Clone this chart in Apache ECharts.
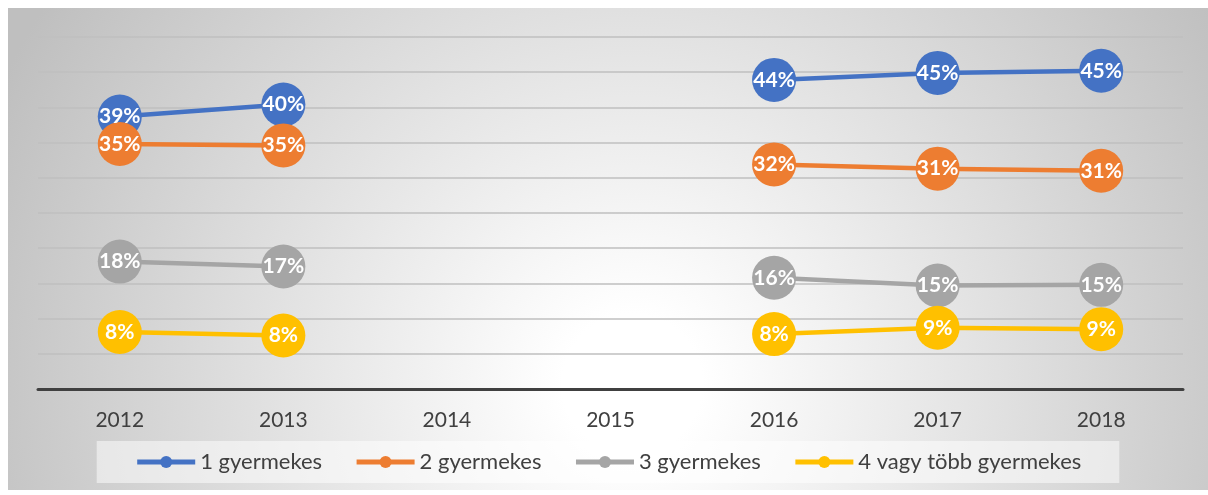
<!DOCTYPE html>
<html>
<head>
<meta charset="utf-8">
<script src="https://cdn.jsdelivr.net/npm/echarts@6/dist/echarts.min.js"></script>
<style>
  html, body { margin: 0; padding: 0; background: #fff; }
  #chart { position: absolute; left: 8px; top: 8px; width: 1200px; height: 482px; }
</style>
</head>
<body>
<div id="chart"></div>
<script>
const years = ['2012', '2013', '2014', '2015', '2016', '2017', '2018']
const seriesNames = ['1 gyermekes', '2 gyermekes', '3 gyermekes', '4 vagy több gyermekes']
const oneChild = [38.7, 40.4, null, null, 43.9, 44.9, 45.2]
const twoChildren = [34.8, 34.6, null, null, 31.9, 31.3, 31.0]
const threeChildren = [18.1, 17.4, null, null, 15.8, 14.7, 14.8]
const fourOrMore = [8.1, 7.6, null, null, 7.8, 8.7, 8.5]
const colors = ['#4472C4', '#ED7D31', '#A5A5A5', '#FFC000']

const fontFamily = 'Lato, "Open Sans", sans-serif'
const chart = echarts.init(document.getElementById('chart'))

const makeSeries = (name, data, color) => ({
  name,
  type: 'line',
  data,
  connectNulls: false,
  symbol: 'circle',
  symbolSize: 44,
  lineStyle: { color, width: 4.5 },
  itemStyle: { color },
  label: {
    show: true,
    position: 'inside',
    color: '#fff',
    fontWeight: 'bold',
    fontSize: 21,
    fontFamily,
    formatter: p => Math.round(p.value) + '%'
  },
  emphasis: { disabled: true },
  animation: false
})

chart.setOption({
  // light centre fading to grey towards the edges
  backgroundColor: new echarts.graphic.RadialGradient(0.52, 0.78, 1.45, [
    { offset: 0, color: '#ffffff' },
    { offset: 0.1, color: '#ffffff' },
    { offset: 1, color: '#bfbfbf' }
  ]),
  color: colors,
  grid: { left: 30, right: 25, top: 29, bottom: 101 },
  legend: {
    bottom: 7,
    left: 'center',
    padding: [10, 38],
    itemWidth: 58,
    itemHeight: 15,
    itemGap: 32,
    backgroundColor: 'rgba(255,255,255,0.5)',
    lineStyle: { width: 5 },
    textStyle: { color: '#404040', fontSize: 22, fontFamily },
    data: seriesNames
  },
  xAxis: {
    type: 'category',
    data: years,
    boundaryGap: true,
    axisLine: { lineStyle: { color: '#404040', width: 3 } },
    axisTick: { show: false },
    axisLabel: { color: '#404040', fontSize: 21, fontFamily, margin: 21 }
  },
  yAxis: {
    type: 'value',
    min: 0,
    max: 50,
    interval: 5,
    axisLabel: { show: false },
    axisLine: { show: false },
    axisTick: { show: false },
    splitLine: { lineStyle: { color: '#bfbfbf', width: 1.5 } }
  },
  series: [
    makeSeries(seriesNames[0], oneChild, colors[0]),
    makeSeries(seriesNames[1], twoChildren, colors[1]),
    makeSeries(seriesNames[2], threeChildren, colors[2]),
    makeSeries(seriesNames[3], fourOrMore, colors[3])
  ]
})
</script>
</body>
</html>
